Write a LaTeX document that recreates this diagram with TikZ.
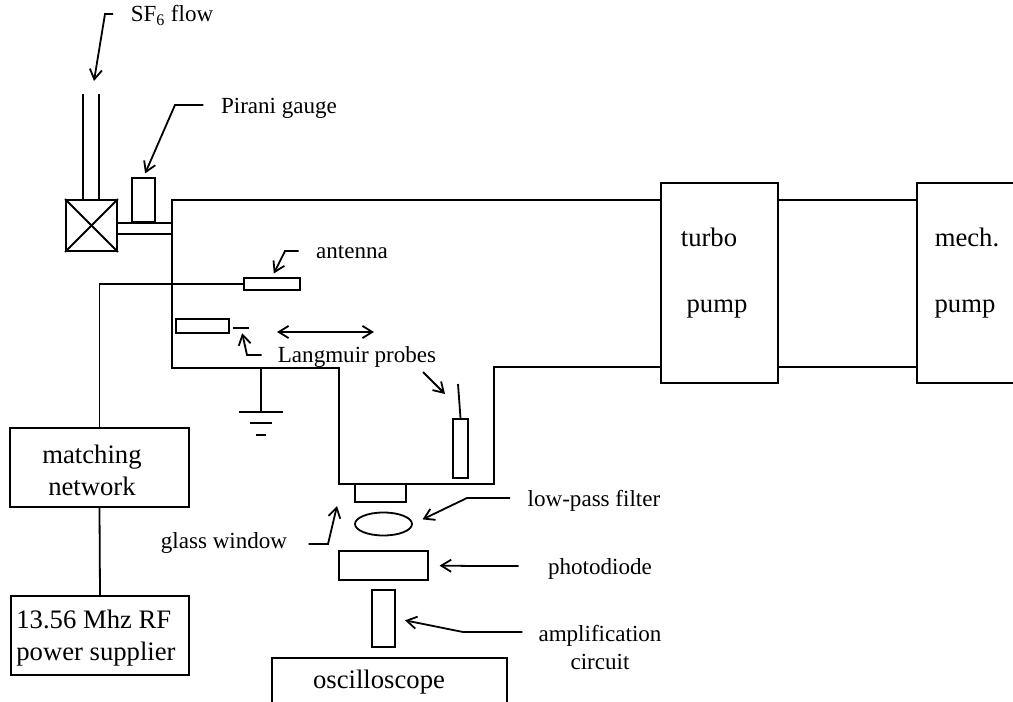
\documentclass[tikz,border=0pt]{standalone}
\usepackage{fontspec}
\setmainfont{Liberation Serif}
\usetikzlibrary{arrows.meta,fit,shapes.geometric}
\tikzset{
  unit/.style={draw,inner sep=0pt,line width=1.35pt},
  tag/.style={inner sep=0pt,align=center,font=\fontsize{17.3}{21}\selectfont},
  big/.style={inner sep=0pt,font=\fontsize{20}{24}\selectfont},
  wall/.style={line width=1.35pt,line join=miter},
  callout/.style={-{Straight Barb[length=2.6mm,width=3.2mm]},line width=1.35pt},
  travel/.style={{Straight Barb[length=2.6mm,width=3.2mm]}-{Straight Barb[length=2.6mm,width=3.2mm]},line width=1.35pt}
}
\begin{document}
\begin{tikzpicture}[x=0.75pt,y=-0.75pt]
  \useasboundingbox (0,0) rectangle (1013,702);
  \node[unit,fit={(66,200)(117,251)}] (valve) {};
  \node[unit,fit={(132,178)(155,222)}] (gauge) {};
  \node[unit,fit={(244,278)(300,290)}] (antenna) {};
  \node[unit,fit={(176,319)(229,333)}] (probea) {};
  \node[unit,fit={(453,419)(468,478)}] (probeb) {};
  \node[unit,fit={(355,484)(406,502)}] (window) {};
  \node[unit,ellipse,minimum width=42.75pt,minimum height=17.25pt] (lens) at (383.5,524) {};
  \node[unit,fit={(339,551)(428,580)}] (diode) {};
  \node[unit,fit={(372,590)(395,647)}] (amp) {};
  \node[unit,fit={(272,658)(507,706)}] (scope) {};
  \node[unit,fit={(10,428)(189,507)}] (match) {};
  \node[unit,fit={(11,596)(189,675)}] (rf) {};
  \node[unit,fit={(661,183)(778,383)}] (turbo) {};
  \node[unit,fit={(917,183)(1030,383)}] (mech) {};

  \node[tag,anchor=base] (sf) at (172,22) {SF\textsubscript{6} flow};
  \node[tag,anchor=base] (pirani) at (279,114) {Pirani gauge};
  \node[tag,anchor=base] (antennatag) at (352,258) {antenna};
  \node[tag,anchor=base] (langmuir) at (357,362) {Langmuir probes};
  \node[tag,anchor=base] (glass) at (224,548) {glass window};
  \node[tag,anchor=base] (filter) at (594,506) {low-pass filter};
  \node[tag,anchor=base] (photo) at (600,574) {photodiode};
  \node[tag] (circuit) at (600,647) {amplification\\circuit};
  \node[big,anchor=base] at (379,688) {oscilloscope};
  \node[big,anchor=base] at (709,247) {turbo};
  \node[big,anchor=base] at (717,312) {pump};
  \node[big,anchor=base] at (967,247) {mech.};
  \node[big,anchor=base] at (965,312) {pump};
  \node[big,align=center] at (92,470) {matching\\network};
  \node[big,align=left] at (96,638) {13.56 Mhz RF\\power supplier};

  \coordinate (wallnw) at (172,200);
  \coordinate (wallsw) at (172,368);
  \coordinate (neckw) at (339,368);
  \coordinate (basew) at (339,484);
  \coordinate (basee) at (494,484);
  \coordinate (necke) at (494,367);
  \coordinate (feeda) at (83,94);
  \coordinate (feedb) at (99,94);
  \coordinate (tubea) at (172,223);
  \coordinate (tubeb) at (172,234);
  \coordinate (ground) at (261,368);
  \coordinate (needle) at (458,384);
  \coordinate (sweepa) at (277,332);
  \coordinate (sweepb) at (374,332);
  \coordinate (tipl) at (233,328);
  \coordinate (tipr) at (249,328);
  \coordinate (tipa) at (241,328);
  \coordinate (earthal) at (239,412);
  \coordinate (earthar) at (283,412);
  \coordinate (earthbl) at (250,423);
  \coordinate (earthbr) at (272,423);
  \coordinate (earthcl) at (256,435);
  \coordinate (earthcr) at (266,435);

  \draw[wall] (turbo.west |- wallnw)--(wallnw)--(wallsw)--(neckw)--(basew)--(basee)--(necke)--(turbo.west |- necke);
  \draw[wall] (turbo.east |- wallnw)--(mech.west |- wallnw);
  \draw[wall] (turbo.east |- necke)--(mech.west |- necke);
  \draw[wall] (feeda)--(feeda |- valve.north);
  \draw[wall] (feedb)--(feedb |- valve.north);
  \draw[wall] (valve.north west)--(valve.south east);
  \draw[wall] (valve.north east)--(valve.south west);
  \draw[wall] (valve.east |- tubea)--(tubea);
  \draw[wall] (valve.east |- tubeb)--(tubeb);
  \draw[wall] (antenna.west)--(match.north |- antenna.west)--(match.north);
  \draw[wall] (match.south)--(rf.north);
  \draw[wall] (ground)--(ground |- earthal);
  \draw[wall] (earthal)--(earthar);
  \draw[wall] (earthbl)--(earthbr);
  \draw[wall] (earthcl)--(earthcr);
  \draw[wall] (tipl)--(tipr);
  \draw[wall] (needle)--(probeb.north);

  \coordinate (sfbend) at (105,14);
  \coordinate (sfhead) at (94,81);
  \coordinate (piranibend) at (175,105);
  \coordinate (antennabend) at (285,251);
  \coordinate (tipbend) at (247,355);
  \coordinate (probestart) at (423,372);
  \coordinate (probehead) at (445,394);
  \coordinate (glassbend) at (328,544);
  \coordinate (glasshead) at (337,506);
  \coordinate (filterbend) at (467,498);
  \coordinate (photobend) at (475,566);
  \coordinate (ampbend) at (463,632);

  \draw[callout,shorten <=13pt] (sf.west |- 0,14)--(sfbend)--(sfhead);
  \draw[callout,shorten <=13pt,shorten >=3pt] (pirani.west |- 0,105)--(piranibend)--(gauge.north);
  \draw[callout,shorten <=13pt,shorten >=3pt] (antennatag.west |- 0,251)--(antennabend)--(antenna.north);
  \draw[callout,shorten <=12pt,shorten >=4pt] (langmuir.west |- 0,355)--(tipbend)--(tipa);
  \draw[callout] (probestart)--(probehead);
  \draw[travel] (sweepa)--(sweepb);
  \draw[callout,shorten <=16pt] (glass.east |- glassbend)--(glassbend)--(glasshead);
  \draw[callout,shorten <=13pt,shorten >=8pt] (filter.west |- filterbend)--(filterbend)--(lens.east);
  \draw[callout,shorten <=22pt,shorten >=8pt] (photo.west |- photobend)--(photobend)--(diode.east);
  \draw[callout,shorten <=12pt,shorten >=7pt] (circuit.west |- ampbend)--(ampbend)--(amp.east);
\end{tikzpicture}
\end{document}
